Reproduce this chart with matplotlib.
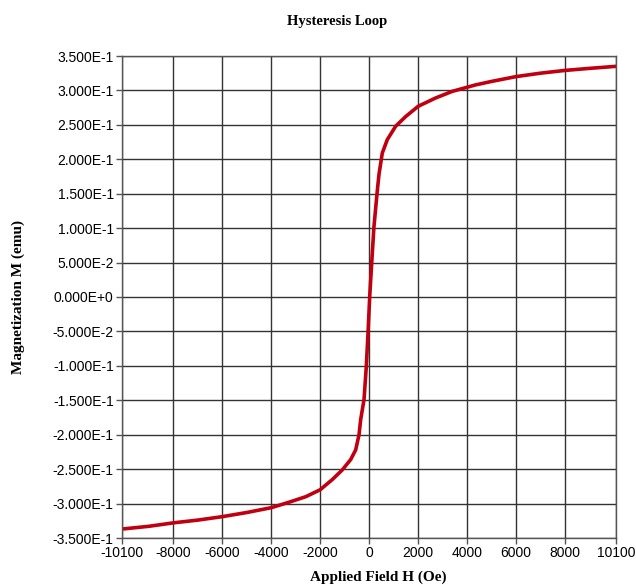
import matplotlib
matplotlib.use("Agg")
import matplotlib.pyplot as plt
import numpy as np

# Data (Applied field H in Oe, magnetization M in emu)
field_h = [-10100, -9000, -8000, -7000, -6000, -5000, -4000, -3265, -2585, -2000,
           -1497, -1088, -748, -544, -408, -340, -204, -110, -40, 28, 110, 200, 330,
           408, 543, 747, 1090, 1498, 2013, 2722, 3400, 4354, 5000, 6000, 7000, 8000, 9000, 10100]
magnet_m = [-0.337, -0.333, -0.328, -0.324, -0.319, -0.313, -0.306, -0.298, -0.290, -0.280,
            -0.265, -0.251, -0.236, -0.222, -0.200, -0.178, -0.149, -0.101, -0.052, 0.0, 0.049, 0.101, 0.151,
            0.178, 0.209, 0.2285, 0.248, 0.262, 0.277, 0.289, 0.2986, 0.308, 0.313, 0.320, 0.325, 0.329, 0.332, 0.335]

x_ticks = [-10100, -8000, -6000, -4000, -2000, 0, 2000, 4000, 6000, 8000, 10100]
y_ticks = [-0.35, -0.30, -0.25, -0.20, -0.15, -0.10, -0.05, 0.0,
           0.05, 0.10, 0.15, 0.20, 0.25, 0.30, 0.35]
y_labels = ["-3.500E-1", "-3.000E-1", "-2.500E-1", "-2.000E-1", "-1.500E-1",
            "-1.000E-1", "-5.000E-2", "0.000E+0", "5.000E-2", "1.000E-1",
            "1.500E-1", "2.000E-1", "2.500E-1", "3.000E-1", "3.500E-1"]

fig = plt.figure(figsize=(6.36, 5.85), dpi=100)
W, H = 636, 585
left, right, top, bottom = 122, 616, 56, 538
ax = fig.add_axes([left / W, 1 - bottom / H, (right - left) / W, (bottom - top) / H])

ax.plot(field_h, magnet_m, color="#c00010", linewidth=2.6, solid_joinstyle="round")

ax.set_xlim(-10100, 10100)
ax.set_ylim(-0.35, 0.35)
ax.set_xticks(x_ticks)
ax.set_xticklabels([str(t) for t in x_ticks], family="Liberation Sans", fontsize=10)
ax.set_yticks(y_ticks)
ax.set_yticklabels(y_labels, family="Liberation Sans", fontsize=10)
ax.grid(True, color="#333333", linewidth=1.0)
ax.set_axisbelow(True)
for s in ax.spines.values():
    s.set_color("#555555")
    s.set_linewidth(1.0)
ax.tick_params(axis="both", length=4, width=1, color="#555555", pad=2)

fig.text(337 / W, 1 - 22 / H, "Hysteresis Loop", ha="center", va="center",
         family="Liberation Serif", fontweight="bold", fontsize=10.5)
fig.text(378 / W, 1 - 577 / H, "Applied Field H (Oe)", ha="center", va="center",
         family="Liberation Serif", fontweight="bold", fontsize=11)
fig.text(18 / W, 1 - 297 / H, "Magnetization M (emu)", ha="center", va="center", rotation=90,
         family="Liberation Serif", fontweight="bold", fontsize=11)

fig.savefig("out.png", dpi=100)
